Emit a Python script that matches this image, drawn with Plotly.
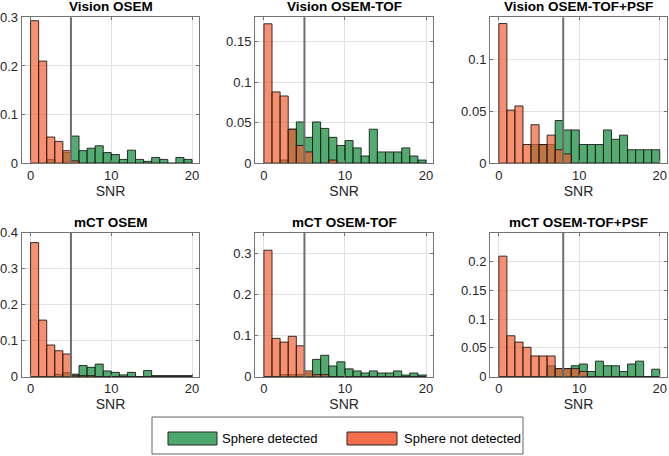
import plotly.graph_objects as go

W, H = 669, 456

# ---------------- data (bin width 1, SNR 0..20) ----------------
bin_centers = [i + 0.5 for i in range(20)]

titles = ["Vision OSEM", "Vision OSEM-TOF", "Vision OSEM-TOF+PSF",
          "mCT OSEM", "mCT OSEM-TOF", "mCT OSEM-TOF+PSF"]

vision_osem_det = [0, 0, 0.008, 0, 0.022, 0.056, 0.026, 0.031, 0.036, 0.022,
                   0.018, 0.008, 0.027, 0.008, 0.004, 0.012, 0.008, 0, 0.012, 0.008]
vision_osem_nd = [0.293, 0.210, 0.054, 0.045, 0.026, 0.005, 0, 0, 0, 0,
                  0, 0, 0, 0, 0, 0, 0, 0, 0, 0]

vision_tof_det = [0, 0, 0.004, 0.042, 0.051, 0.032, 0.051, 0.043, 0.032, 0.022,
                  0.028, 0.019, 0.009, 0.042, 0.014, 0.014, 0.014, 0.019, 0.009, 0.004]
vision_tof_nd = [0.172, 0.088, 0.083, 0.042, 0.022, 0.014, 0, 0, 0.004, 0,
                 0, 0, 0, 0, 0, 0, 0, 0, 0, 0]

vision_psf_det = [0, 0, 0, 0, 0.018, 0.018, 0.018, 0.041, 0.032, 0.032,
                  0.018, 0.018, 0.018, 0.032, 0.023, 0.027, 0.013, 0.013, 0.013, 0.013]
vision_psf_nd = [0.134, 0.051, 0.055, 0.018, 0.037, 0.018, 0.027, 0.013, 0.009, 0,
                 0, 0, 0, 0, 0, 0, 0, 0, 0, 0]

mct_osem_det = [0, 0, 0, 0.0065, 0.011, 0.007, 0.031, 0.026, 0.035, 0.016,
                0.012, 0.005, 0.012, 0, 0.017, 0.003, 0.003, 0.003, 0.003, 0.003]
mct_osem_nd = [0.372, 0.157, 0.088, 0.072, 0.063, 0.004, 0.003, 0.003, 0, 0,
               0, 0, 0, 0, 0, 0, 0, 0, 0, 0]

mct_tof_det = [0, 0, 0.005, 0.005, 0.005, 0.009, 0.042, 0.052, 0.026, 0.036,
               0.019, 0.014, 0.009, 0.014, 0.009, 0.009, 0.014, 0.004, 0.009, 0.004]
mct_tof_nd = [0.307, 0.093, 0.084, 0.098, 0.075, 0.014, 0.005, 0.005, 0, 0,
              0, 0, 0, 0, 0, 0, 0, 0, 0, 0]

mct_psf_det = [0, 0, 0, 0, 0, 0, 0.019, 0.014, 0.014, 0.019,
               0.022, 0.009, 0.027, 0.019, 0.019, 0.009, 0.022, 0.027, 0, 0.013]
mct_psf_nd = [0.209, 0.071, 0.060, 0.051, 0.036, 0.036, 0.036, 0.014, 0.014, 0.014,
              0.009, 0, 0, 0, 0, 0, 0, 0, 0, 0]

detected = [vision_osem_det, vision_tof_det, vision_psf_det,
            mct_osem_det, mct_tof_det, mct_psf_det]
not_detected = [vision_osem_nd, vision_tof_nd, vision_psf_nd,
                mct_osem_nd, mct_tof_nd, mct_psf_nd]

thresholds = [5, 5, 8, 5, 5, 8]
y_max = [0.3, 0.18, 0.14, 0.4, 0.35, 0.25]
y_ticks = [[0, 0.1, 0.2, 0.3],
           [0, 0.05, 0.1, 0.15],
           [0, 0.05, 0.1],
           [0, 0.1, 0.2, 0.3, 0.4],
           [0, 0.1, 0.2, 0.3],
           [0, 0.05, 0.1, 0.15, 0.2]]
x_ticks = [0, 10, 20]

legend_labels = ["Sphere detected", "Sphere not detected"]

# ---------------- styling ----------------
GREEN = "rgba(30,145,70,0.76)"
RED = "rgba(242,92,45,0.68)"
GREEN_SW = "rgb(77,168,110)"
RED_SW = "rgb(244,110,75)"
EDGE = "rgba(20,20,20,0.85)"
FONT = "Liberation Sans, Arial, sans-serif"


def px(x):
    return x / W


def py(y):
    return 1 - y / H


col_px = [(21.7, 199.3), (255.0, 433.3), (490.0, 667.0)]
row_px = [(17.3, 163.3), (232.5, 376.7)]

fig = go.Figure()
layout = dict(
    width=W, height=H,
    margin=dict(l=0, r=0, t=0, b=0, autoexpand=False),
    paper_bgcolor="white", plot_bgcolor="white",
    barmode="overlay", showlegend=False,
    font=dict(family=FONT, size=13, color="rgb(38,38,38)"),
)
shapes = []
annotations = []

for i in range(6):
    r, c = divmod(i, 3)
    n = i + 1
    xa = "x" if n == 1 else f"x{n}"
    ya = "y" if n == 1 else f"y{n}"
    fig.add_trace(go.Bar(x=bin_centers, y=detected[i], width=1,
                         marker=dict(color=GREEN, line=dict(color=EDGE, width=1)),
                         xaxis=xa, yaxis=ya, name=legend_labels[0]))
    fig.add_trace(go.Bar(x=bin_centers, y=not_detected[i], width=1,
                         marker=dict(color=RED, line=dict(color=EDGE, width=1)),
                         xaxis=xa, yaxis=ya, name=legend_labels[1]))
    x0, x1 = col_px[c]
    y0, y1 = row_px[r]
    axcommon = dict(showline=True, mirror="ticks", linecolor="rgb(115,115,115)",
                    linewidth=1, ticks="inside", ticklen=3, tickcolor="rgb(115,115,115)",
                    showgrid=True, gridcolor="rgb(226,226,226)", gridwidth=1,
                    zeroline=False, automargin=False,
                    tickfont=dict(size=13, color="rgb(38,38,38)"))
    layout["xaxis" if n == 1 else f"xaxis{n}"] = dict(
        axcommon, domain=[px(x0), px(x1)], range=[-1.1, 20.9],
        tickvals=x_ticks, anchor=ya,
        title=dict(text="SNR", font=dict(size=14, color="rgb(38,38,38)"), standoff=2))
    layout["yaxis" if n == 1 else f"yaxis{n}"] = dict(
        axcommon, domain=[py(y1), py(y0)], range=[0, y_max[i]],
        tickvals=y_ticks[i], ticktext=[("%g" % v) for v in y_ticks[i]], anchor=xa)
    shapes.append(dict(type="line", xref=xa, yref=f"{ya} domain",
                       x0=thresholds[i], x1=thresholds[i], y0=0, y1=1,
                       line=dict(color="rgb(110,110,110)", width=2)))
    annotations.append(dict(text="<b>%s</b>" % titles[i], xref="paper", yref="paper",
                            x=px((x0 + x1) / 2), y=py(y0 - 10.5), xanchor="center",
                            yanchor="middle", showarrow=False,
                            font=dict(size=13.5, color="black", family=FONT)))

# legend box drawn manually
shapes.append(dict(type="rect", xref="paper", yref="paper",
                   x0=px(152), x1=px(523), y0=py(454), y1=py(417),
                   line=dict(color="rgb(100,100,100)", width=1), fillcolor="white"))
shapes.append(dict(type="rect", xref="paper", yref="paper",
                   x0=px(168), x1=px(217), y0=py(445), y1=py(432),
                   line=dict(color="rgb(40,40,40)", width=1), fillcolor=GREEN_SW))
shapes.append(dict(type="rect", xref="paper", yref="paper",
                   x0=px(347), x1=px(397), y0=py(445), y1=py(432),
                   line=dict(color="rgb(40,40,40)", width=1), fillcolor=RED_SW))
annotations.append(dict(text=legend_labels[0], xref="paper", yref="paper",
                        x=px(219.5), y=py(438.5), xanchor="left", yanchor="middle",
                        showarrow=False, font=dict(size=13, color="black", family=FONT)))
annotations.append(dict(text=legend_labels[1], xref="paper", yref="paper",
                        x=px(402), y=py(438.5), xanchor="left", yanchor="middle",
                        showarrow=False, font=dict(size=13, color="black", family=FONT)))

layout["shapes"] = shapes
layout["annotations"] = annotations
fig.update_layout(**layout)
fig.write_html("out.html", config={"displayModeBar": False},
               post_script="document.body.style.margin='0';document.body.style.padding='0';")
